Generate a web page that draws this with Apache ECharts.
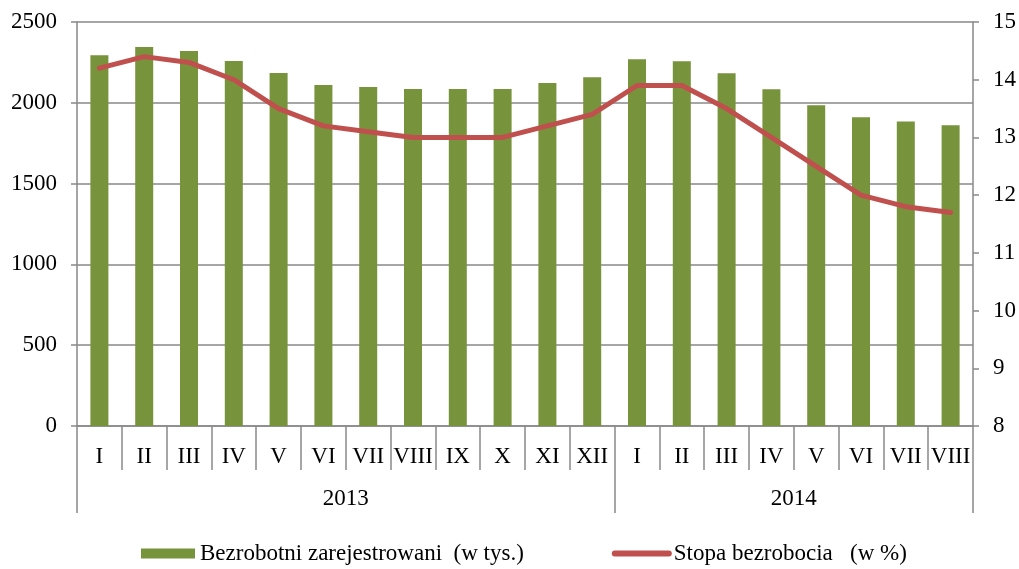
<!DOCTYPE html>
<html>
<head>
<meta charset="utf-8">
<script src="https://cdn.jsdelivr.net/npm/echarts@6/dist/echarts.min.js"></script>
<style>
  html, body { margin: 0; padding: 0; background: #fff; }
  #chart { width: 1019px; height: 569px; }
</style>
</head>
<body>
<div id="chart"></div>
<script>
// miesiące (2013: I-XII, 2014: I-VIII)
const months = ['I','II','III','IV','V','VI','VII','VIII','IX','X','XI','XII',
                'I','II','III','IV','V','VI','VII','VIII'];
const years = ['2013', '2014'];
const yearStart = [0, 12, 20];     // granice lat (indeksy kategorii)
const yearCenter = [6, 16];

// bezrobotni zarejestrowani (w tys.)
const registered = [2295, 2345, 2320, 2258, 2184, 2110, 2098, 2085, 2085, 2085, 2122, 2158,
                    2269, 2257, 2183, 2084, 1985, 1910, 1885, 1861];
// stopa bezrobocia (w %)
const rate = [14.2, 14.4, 14.3, 14.0, 13.5, 13.2, 13.1, 13.0, 13.0, 13.0, 13.2, 13.4,
              13.9, 13.9, 13.5, 13.0, 12.5, 12.0, 11.8, 11.7];

const leftTicks = [0, 2500, 500];
const rightTicks = [8, 15, 1];

const font = '"Liberation Serif", "Times New Roman", serif';
const gray = '#898989';

const myChart = echarts.init(document.getElementById('chart'));

let option = {
  animation: false,
  textStyle: { fontFamily: font, color: '#000' },
  grid: { left: 77, right: 46, top: 22, bottom: 143 },
  legend: {
    top: 537,
    left: 136,
    itemWidth: 54,
    itemHeight: 10,
    itemGap: 88,
    textStyle: { fontFamily: font, fontSize: 23, color: '#000' },
    data: [
      { name: 'Bezrobotni zarejestrowani  (w tys.)', icon: 'rect' },
      { name: 'Stopa bezrobocia   (w %)', lineStyle: { width: 6, cap: 'round' }, itemStyle: { opacity: 0 } }
    ]
  },
  xAxis: [
    {
      type: 'category',
      position: 'bottom',
      data: months,
      boundaryGap: true,
      axisLine: { lineStyle: { color: gray, width: 1.5 } },
      axisTick: { show: true, interval: 0, length: 44, lineStyle: { color: gray, width: 1.5 } },
      axisLabel: { interval: 0, margin: 19, fontSize: 23, color: '#000', fontFamily: font }
    },
    {
      type: 'value',
      position: 'bottom',
      min: 0,
      max: 20,
      axisLine: { show: false },
      splitLine: { show: false },
      axisTick: { show: true, customValues: yearStart, length: 87, lineStyle: { color: gray, width: 1.5 } },
      axisLabel: {
        customValues: yearCenter,
        margin: 61,
        fontSize: 23,
        color: '#000',
        fontFamily: font,
        formatter: v => years[yearCenter.indexOf(v)]
      }
    }
  ],
  yAxis: [
    {
      type: 'value',
      min: leftTicks[0],
      max: leftTicks[1],
      interval: leftTicks[2],
      axisLine: { show: true, lineStyle: { color: gray, width: 1.5 } },
      axisTick: { show: true, length: 6, lineStyle: { color: gray, width: 1.5 } },
      splitLine: { lineStyle: { color: gray, width: 1.5 } },
      axisLabel: { margin: 20, fontSize: 23, color: '#000', fontFamily: font, formatter: v => String(v) }
    },
    {
      type: 'value',
      position: 'right',
      min: rightTicks[0],
      max: rightTicks[1],
      interval: rightTicks[2],
      axisLine: { show: true, lineStyle: { color: gray, width: 1.5 } },
      axisTick: { show: true, length: 6, lineStyle: { color: gray, width: 1.5 } },
      splitLine: { show: false },
      axisLabel: { margin: 20, fontSize: 23, color: '#000', fontFamily: font }
    }
  ],
  series: [
    {
      name: 'Bezrobotni zarejestrowani  (w tys.)',
      type: 'bar',
      xAxisIndex: 0,
      yAxisIndex: 0,
      barWidth: 18,
      itemStyle: { color: '#77933C' },
      data: registered
    },
    {
      name: 'Stopa bezrobocia   (w %)',
      type: 'line',
      xAxisIndex: 0,
      yAxisIndex: 1,
      symbol: 'none',
      lineStyle: { color: '#C0504D', width: 5, cap: 'round', join: 'round' },
      itemStyle: { color: '#C0504D' },
      data: rate
    }
  ]
};
myChart.setOption(option);
window.onresize = myChart.resize;
</script>
</body>
</html>
